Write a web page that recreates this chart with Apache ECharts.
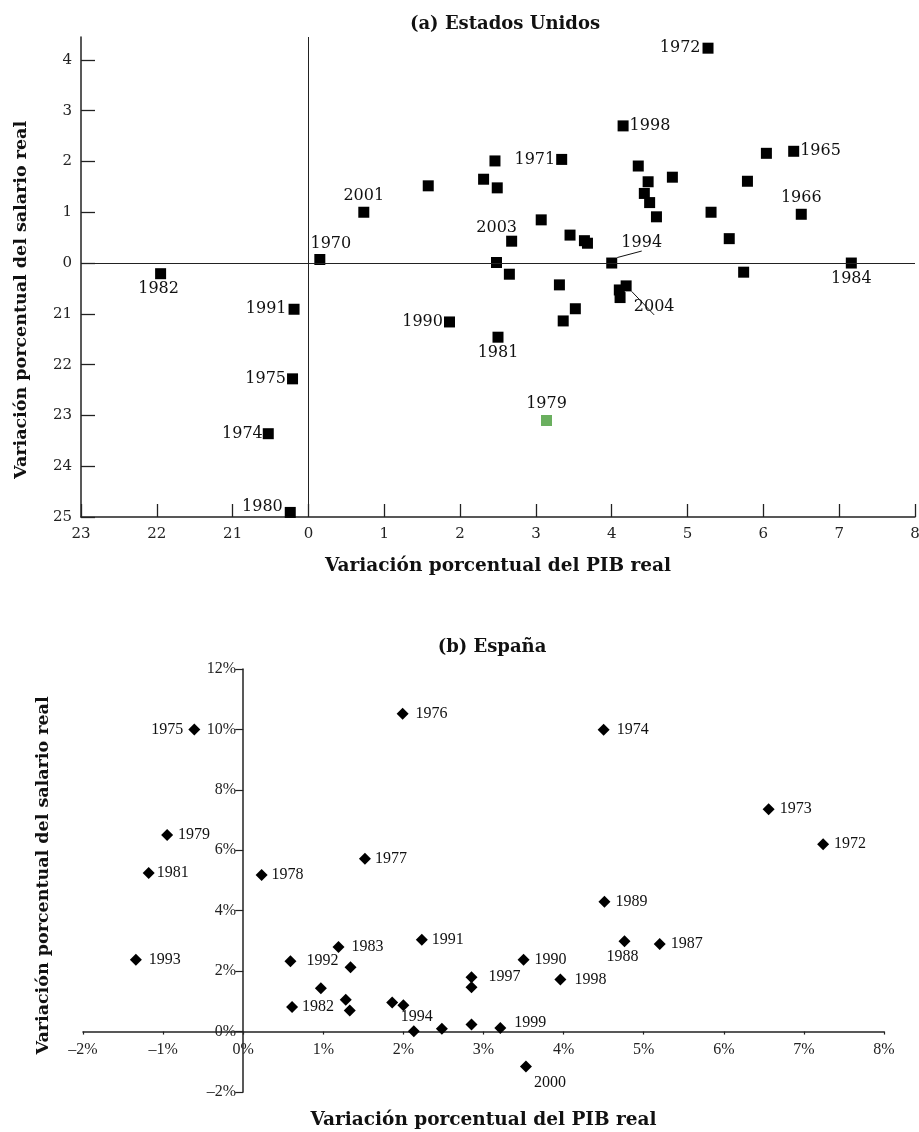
<!DOCTYPE html>
<html>
<head>
<meta charset="utf-8">
<script src="https://cdn.jsdelivr.net/npm/echarts@6/dist/echarts.min.js"></script>
<style>
html,body{margin:0;padding:0;background:#fff;}
#chart{width:919px;height:1132px;}
</style>
</head>
<body>
<div id="chart"></div>
<script>
// ---------- (a) Estados Unidos ----------
const usGDP  = [0.73,1.58,0.15,-1.95,5.27,4.15,3.34,2.46,2.31,2.49,4.35,4.48,4.80,4.43,4.50,4.59,6.04,6.40,5.79,6.50,5.31,5.55,5.74,7.16,2.68,3.07,3.45,3.64,3.68,4.00,2.48,2.65,3.31,4.19,4.10,4.11,3.52,3.36,2.50,3.14,-0.19,1.86,-0.21,-0.53,-0.24];
const usWage = [1.00,1.52,0.07,-0.21,4.23,2.70,2.04,2.01,1.65,1.48,1.91,1.60,1.69,1.37,1.19,0.91,2.16,2.20,1.61,0.96,1.00,0.48,-0.18,0.00,0.43,0.85,0.55,0.44,0.39,0.00,0.01,-0.22,-0.43,-0.45,-0.53,-0.68,-0.90,-1.14,-1.46,-3.10,-0.91,-1.16,-2.28,-3.36,-4.91];
const usYears = ['2001','','1970','1982','1972','1998','1971','','','','','','','','','','','1965','','1966','','','','1984','2003','','','','','1994','','','','2004','','','','','1981','1979','1991','1990','1975','1974','1980'];
const usXTickValues = [-3,-2,-1,0,1,2,3,4,5,6,7,8];
const usXTickLabels = ['23','22','21','0','1','2','3','4','5','6','7','8'];
const usYTickValues = [-5,-4,-3,-2,-1,0,1,2,3,4];
const usYTickLabels = ['25','24','23','22','21','0','1','2','3','4'];
const usTitle = '(a) Estados Unidos';
const usHighlight = ['1979'];

// ---------- (b) España ----------
const esGDP  = [-0.61,1.99,-0.95,1.52,4.50,6.56,7.24,-1.18,0.23,-1.34,1.19,2.23,0.59,1.34,0.97,0.61,1.28,1.33,1.86,2.00,2.13,2.48,4.51,4.76,5.20,3.50,2.85,2.85,3.96,2.85,3.21,3.53];
const esWage = [10.00,10.52,6.51,5.72,9.99,7.36,6.20,5.25,5.18,2.38,2.80,3.04,2.33,2.13,1.43,0.81,1.05,0.70,0.96,0.87,0.01,0.09,4.30,2.99,2.90,2.38,1.80,1.47,1.72,0.23,0.12,-1.16];
const esYears = ['1975','1976','1979','1977','1974','1973','1972','1981','1978','1993','1983','1991','1992','','','1982','','','','','1994','','1989','1988','1987','1990','1997','','1998','','1999','2000'];
const esXTickValues = [-2,-1,0,1,2,3,4,5,6,7,8];
const esXTickLabels = ['–2%','–1%','0%','1%','2%','3%','4%','5%','6%','7%','8%'];
const esYTickValues = [-2,0,2,4,6,8,10,12];
const esYTickLabels = ['–2%','0%','2%','4%','6%','8%','10%','12%'];
const esTitle = '(b) España';

const xName = 'Variación porcentual del PIB real';
const yName = 'Variación porcentual del salario real';

// ---------- layout (styling only) ----------
const W = 919, H = 1132;
const gridA = {left: 81, right: 4, top: 37, bottom: 615};
const gridB = {left: 83, right: 35, top: 669, bottom: 40};
const esXMin = -2, esXMax = 8, esYMin = -2, esYMax = 12;
// axes of panel (b) cross at zero: shift them into the grid by the pixel position of 0
const gridBW = W - gridB.left - gridB.right;
const gridBH = H - gridB.top - gridB.bottom;
const esYAxisOffset = -((0 - esXMin) / (esXMax - esXMin)) * gridBW;
const esXAxisOffset = -((0 - esYMin) / (esYMax - esYMin)) * gridBH;

const usPlace = {
  '1972':{position:'left',distance:2}, '1998':{position:'right',distance:1},
  '1971':{position:'left',distance:1}, '1965':{position:'right',distance:1},
  '1966':{position:'top',distance:3}, '2001':{position:'top',distance:3},
  '1970':{position:'top',distance:2,offset:[11,0]}, '2003':{position:'top',distance:0,offset:[-15,0]},
  '1994':{position:'inside',offset:[30,-20],line:true}, '1984':{position:'bottom',distance:2},
  '2004':{position:'inside',offset:[28,21],line:true}, '1981':{position:'bottom',distance:2},
  '1979':{position:'top',distance:3}, '1982':{position:'bottom',distance:2,offset:[-2,0]},
  '1991':{position:'left',distance:2}, '1990':{position:'left',distance:1},
  '1975':{position:'left',distance:1}, '1974':{position:'left',distance:0},
  '1980':{position:'left',distance:2,offset:[0,-6]}
};
const esPlace = {
  '1975':{position:'left',distance:5}, '1976':{distance:7}, '1974':{distance:7},
  '1981':{distance:2}, '1978':{distance:4}, '1977':{distance:4}, '1982':{distance:4}, '1991':{distance:4},
  '1993':{distance:7}, '1983':{distance:7}, '1992':{distance:10}, '1997':{distance:11}, '1998':{distance:8},
  '1999':{distance:8,offset:[0,-5]}, '1988':{position:'bottom',distance:2,offset:[-2,0]},
  '1994':{position:'top',distance:0,offset:[3,0]}, '2000':{position:'inside',offset:[24,16]}
};

function buildData(xs, ys, years, place, defaults, highlight) {
  return xs.map(function (x, i) {
    const name = years[i];
    const item = {value: [x, ys[i]], name: name};
    if (name) {
      const p = Object.assign({}, defaults, place[name] || {});
      const line = p.line; delete p.line;
      item.label = Object.assign({show: true}, p);
      if (line) item.labelLine = {show: true, lineStyle: {color: '#111', width: 1}};
    } else {
      item.label = {show: false};
    }
    if (highlight && highlight.indexOf(name) >= 0) item.itemStyle = {color: '#6aaf5f', opacity: 1};
    return item;
  });
}

function lookup(values, labels) {
  return function (v) {
    for (let i = 0; i < values.length; i++) if (Math.abs(values[i] - v) < 1e-9) return labels[i];
    return '';
  };
}

const axisColor = '#222';
const nameStyleBase = {fontFamily: 'DejaVu Serif', fontWeight: 'bold', color: '#111'};

const chart = echarts.init(document.getElementById('chart'), null, {renderer: 'canvas'});
chart.setOption({
  animation: false,
  backgroundColor: '#fff',
  graphic: [
    {type: 'text', x: 505, y: 24, style: {text: usTitle, fontFamily: 'DejaVu Serif', fontWeight: 'bold', fontSize: 18, fill: '#111', align: 'center', verticalAlign: 'middle'}},
    {type: 'text', x: 492, y: 647, style: {text: esTitle, fontFamily: 'DejaVu Serif', fontWeight: 'bold', fontSize: 18, fill: '#111', align: 'center', verticalAlign: 'middle'}}
  ],
  grid: [
    Object.assign({containLabel: false, outerBoundsMode: 'none'}, gridA),
    Object.assign({containLabel: false, outerBoundsMode: 'none'}, gridB)
  ],
  xAxis: [
    {
      type: 'value', gridIndex: 0, min: -3, max: 8, interval: 1,
      splitLine: {show: false},
      axisLine: {onZero: false, lineStyle: {color: axisColor, width: 1.5}},
      axisTick: {inside: true, length: 13, customValues: usXTickValues, lineStyle: {color: axisColor, width: 1.3}},
      axisLabel: {margin: 10, customValues: usXTickValues, formatter: lookup(usXTickValues, usXTickLabels), fontFamily: 'DejaVu Serif', fontSize: 15, color: '#222'},
      name: xName, nameLocation: 'middle', nameGap: 40,
      nameTextStyle: Object.assign({fontSize: 18.5}, nameStyleBase)
    },
    {
      type: 'value', gridIndex: 1, min: esXMin, max: esXMax, interval: 1,
      position: 'bottom', offset: esXAxisOffset,
      splitLine: {show: false},
      axisLine: {onZero: false, lineStyle: {color: axisColor, width: 1.5}},
      axisTick: {inside: false, length: 3, lineStyle: {color: axisColor, width: 1.2}},
      axisLabel: {margin: 10, formatter: lookup(esXTickValues, esXTickLabels), fontFamily: 'Liberation Serif', fontSize: 16, color: '#222'},
      name: xName, nameLocation: 'middle', nameGap: 79,
      nameTextStyle: Object.assign({fontSize: 18.5}, nameStyleBase)
    }
  ],
  yAxis: [
    {
      type: 'value', gridIndex: 0, min: -5, max: 4.45, interval: 1,
      splitLine: {show: false},
      axisLine: {onZero: false, lineStyle: {color: axisColor, width: 1.5}},
      axisTick: {inside: true, length: 14, customValues: usYTickValues, lineStyle: {color: axisColor, width: 1.3}},
      axisLabel: {margin: 9, customValues: usYTickValues, formatter: lookup(usYTickValues, usYTickLabels), fontFamily: 'DejaVu Serif', fontSize: 15, color: '#222'},
      name: yName, nameLocation: 'middle', nameGap: 51,
      nameTextStyle: Object.assign({fontSize: 17.5, padding: [0, 46, 0, 0]}, nameStyleBase)
    },
    {
      type: 'value', gridIndex: 1, min: esYMin, max: esYMax, interval: 2,
      position: 'left', offset: esYAxisOffset,
      splitLine: {show: false},
      axisLine: {onZero: false, lineStyle: {color: axisColor, width: 1.5}},
      axisTick: {inside: false, length: 8, lineStyle: {color: axisColor, width: 1.2}},
      axisLabel: {margin: 7, formatter: lookup(esYTickValues, esYTickLabels), fontFamily: 'Liberation Serif', fontSize: 16, color: '#222'},
      name: yName, nameLocation: 'middle', nameGap: 191,
      nameTextStyle: Object.assign({fontSize: 17.5, padding: [0, 0, 0, 10]}, nameStyleBase)
    }
  ],
  series: [
    {
      type: 'scatter', xAxisIndex: 0, yAxisIndex: 0,
      symbol: 'rect', symbolSize: 11,
      itemStyle: {color: '#000', opacity: 1},
      label: {show: true, formatter: '{b}', fontFamily: 'DejaVu Serif', fontSize: 16, color: '#111'},
      data: buildData(usGDP, usWage, usYears, usPlace, {position: 'right', distance: 2}, usHighlight),
      markLine: {
        silent: true, symbol: ['none', 'none'], animation: false,
        label: {show: false},
        lineStyle: {color: '#222', width: 1, type: 'solid', opacity: 1},
        data: [{xAxis: 0}, {yAxis: 0}]
      },
      z: 3
    },
    {
      type: 'scatter', xAxisIndex: 1, yAxisIndex: 1,
      symbol: 'diamond', symbolSize: 12,
      itemStyle: {color: '#000', opacity: 1},
      label: {show: true, formatter: '{b}', fontFamily: 'Liberation Serif', fontSize: 16, color: '#111'},
      data: buildData(esGDP, esWage, esYears, esPlace, {position: 'right', distance: 5}, null),
      z: 3
    }
  ]
});
</script>
</body>
</html>
